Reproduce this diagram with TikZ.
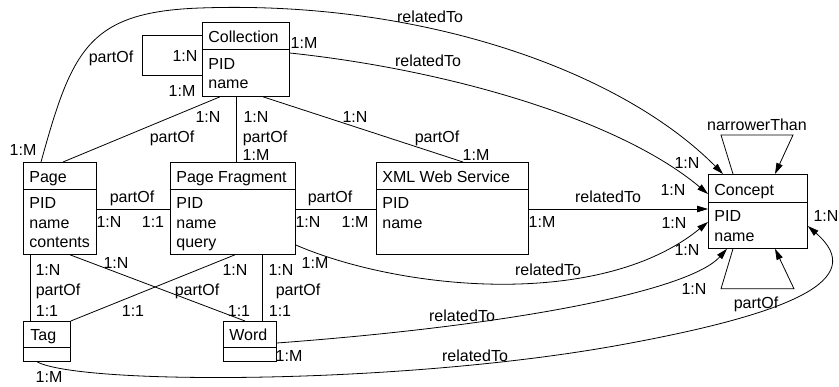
\documentclass[tikz,border=0pt]{standalone}
\usepackage{fontspec}
\setmainfont{Liberation Sans}
\usetikzlibrary{calc,arrows.meta}
\begin{document}
\begin{tikzpicture}[x=1pt,y=-1pt,line width=0.8pt,
  box/.style={draw, rectangle, inner sep=0pt, anchor=north west},
  txt/.style={anchor=base west, inner sep=0pt, font=\fontsize{16pt}{19pt}\selectfont},
  lbl/.style={anchor=base, inner sep=0pt, font=\fontsize{16pt}{19pt}\selectfont},
  arr/.style={-{Triangle[length=11pt,width=6.5pt]}}]
\useasboundingbox (0,0) rectangle (839,386);
% entity boxes
\node[box, minimum width=87pt, minimum height=74pt] (coll) at (202,22) {};
\node[box, minimum width=73pt, minimum height=92pt] (page) at (23,162) {};
\node[box, minimum width=125pt, minimum height=92pt] (frag) at (170,162) {};
\node[box, minimum width=152pt, minimum height=92pt] (xml) at (376,162) {};
\node[box, minimum width=99pt, minimum height=74pt] (concept) at (708,174) {};
\node[box, minimum width=47pt, minimum height=40pt] (tag) at (23,321) {};
\node[box, minimum width=53pt, minimum height=40pt] (word) at (223,321) {};
% header lines
\draw ($(coll.north west)+(0,27)$) -- ($(coll.north east)+(0,27)$);
\draw ($(page.north west)+(0,27)$) -- ($(page.north east)+(0,27)$);
\draw ($(frag.north west)+(0,27)$) -- ($(frag.north east)+(0,27)$);
\draw ($(xml.north west)+(0,27)$) -- ($(xml.north east)+(0,27)$);
\draw ($(concept.north west)+(0,28)$) -- ($(concept.north east)+(0,28)$);
\draw ($(tag.north west)+(0,26)$) -- ($(tag.north east)+(0,26)$);
\draw ($(word.north west)+(0,26)$) -- ($(word.north east)+(0,26)$);
% box texts
\node[txt] (collT) at ($(coll.north west)+(6,20.5)$) {Collection};
\node[txt] (collA) at ($(coll.north west)+(6,47)$) {PID};
\node[txt] (collB) at ($(coll.north west)+(6,66.5)$) {name};
\node[txt] (pageT) at ($(page.north west)+(6,20.5)$) {Page};
\node[txt] (pageA) at ($(page.north west)+(6,46.5)$) {PID};
\node[txt] (pageB) at ($(page.north west)+(6,66)$) {name};
\node[txt] (pageC) at ($(page.north west)+(6,85.5)$) {contents};
\node[txt] (fragT) at ($(frag.north west)+(6,20.5)$) {Page Fragment};
\node[txt] (fragA) at ($(frag.north west)+(6,46.5)$) {PID};
\node[txt] (fragB) at ($(frag.north west)+(6,66)$) {name};
\node[txt] (fragC) at ($(frag.north west)+(6,85.5)$) {query};
\node[txt] (xmlT) at ($(xml.north west)+(6,20.5)$) {XML Web Service};
\node[txt] (xmlA) at ($(xml.north west)+(6,46.5)$) {PID};
\node[txt] (xmlB) at ($(xml.north west)+(6,66)$) {name};
\node[txt] (conT) at ($(concept.north west)+(6,21.5)$) {Concept};
\node[txt] (conA) at ($(concept.north west)+(6,47.5)$) {PID};
\node[txt] (conB) at ($(concept.north west)+(6,67)$) {name};
\node[txt] (tagT) at ($(tag.north west)+(7,19.5)$) {Tag};
\node[txt] (wordT) at ($(word.north west)+(6,19.5)$) {Word};
% connectors
\draw ($(coll.north west)+(0,13)$) -- ++(-60,0) -- ++(0,40) -- ($(coll.north west)+(0,53)$);
\draw ($(page.north west)+(40,0)$) -- ($(coll.south west)+(18,0)$);
\draw ($(coll.south west)+(34,0)$) -- ($(frag.north west)+(66,0)$);
\draw ($(coll.south west)+(61,0)$) -- ($(xml.north west)+(87,0)$);
\draw ($(page.north east)+(0,47)$) -- ($(frag.north west)+(0,47)$);
\draw ($(frag.north east)+(0,47)$) -- ($(xml.north west)+(0,47)$);
\draw[arr] ($(xml.north east)+(0,47)$) -- ($(concept.north west)+(0,35)$);
\draw ($(page.south west)+(7,0)$) -- ($(tag.north west)+(7,0)$);
\draw ($(page.south west)+(47,0)$) -- ($(word.north west)+(22,0)$);
\draw ($(frag.south west)+(65,0)$) -- (tag.north east);
\draw ($(frag.south west)+(92,0)$) -- ($(word.north west)+(39,0)$);
\draw[arr] ($(page.north west)+(18,0)$) .. controls (72,50) and (88,12) .. (200,8)
   .. controls (420,0) and (620,70) .. ($(concept.north west)+(15,0)$);
\draw[arr] ($(coll.north east)+(0,31)$) .. controls (450,70) and (620,120) .. ($(concept.north west)+(0,20)$);
\draw[arr] ($(frag.north east)+(0,83)$) .. controls (400,290) and (600,310) .. ($(concept.north west)+(0,48)$);
\draw[arr] ($(word.north east)+(0,22)$) .. controls (520,325) and (690,290) .. ($(concept.south west)+(19,0)$);
\draw[arr] ($(tag.south west)+(14,0)$) .. controls (80,385) and (400,385) .. (620,345)
   .. controls (790,314) and (870,280) .. ($(concept.north east)+(0,52)$);
\draw[arr] ($(concept.north west)+(25,0)$) -- ++(-12,-39) -- ++(72,0) -- ($(concept.north west)+(67,0)$);
\draw[arr] ($(concept.south west)+(25,0)$) -- ++(-12,40) -- ++(73,0) -- ($(concept.south west)+(67,0)$);
% labels
\foreach \t/\px/\py [count=\i] in {
  1:N/185/61.5, partOf/111/62.5, 1:M/182/96, 1:M/23/155.5,
  1:N/208/122.5, partOf/172/142.5,
  1:N/256/122.5, partOf/265/142.5, 1:M/256/160.5,
  1:N/355/122.5, partOf/437/142.5, 1:M/476/160.5,
  1:M/304/48.5, relatedTo/430/22.5, relatedTo/428/66.5,
  1:N/687/168.5, 1:N/673/195.5, 1:N/674/228.5, 1:N/687/255.5, 1:N/694/294.5, 1:N/826/221.5,
  narrowerThan/757/130.5, partOf/756/308.5,
  relatedTo/608/202.5, 1:M/542/227.5,
  relatedTo/548/275, 1:M/315/268.5,
  relatedTo/462/321.5, 1:M/289/361.5,
  relatedTo/475/361.5, 1:M/49/382.5,
  1:N/48/275.5, partOf/58/295.5, 1:1/47/316.5,
  1:N/116/268.5, 1:1/239/316.5,
  1:N/235/275.5, partOf/197/295.5, 1:1/133/316.5,
  1:N/281/275.5, partOf/298/295.5, 1:1/280/316.5,
  partOf/132/202.5, 1:N/109/227.5, 1:1/153/227.5,
  partOf/330/202.5, 1:N/308/227.5, 1:M/355/227.5}
  \node[lbl] (lbl\i) at (\px,\py) {\t};
\end{tikzpicture}
\end{document}
